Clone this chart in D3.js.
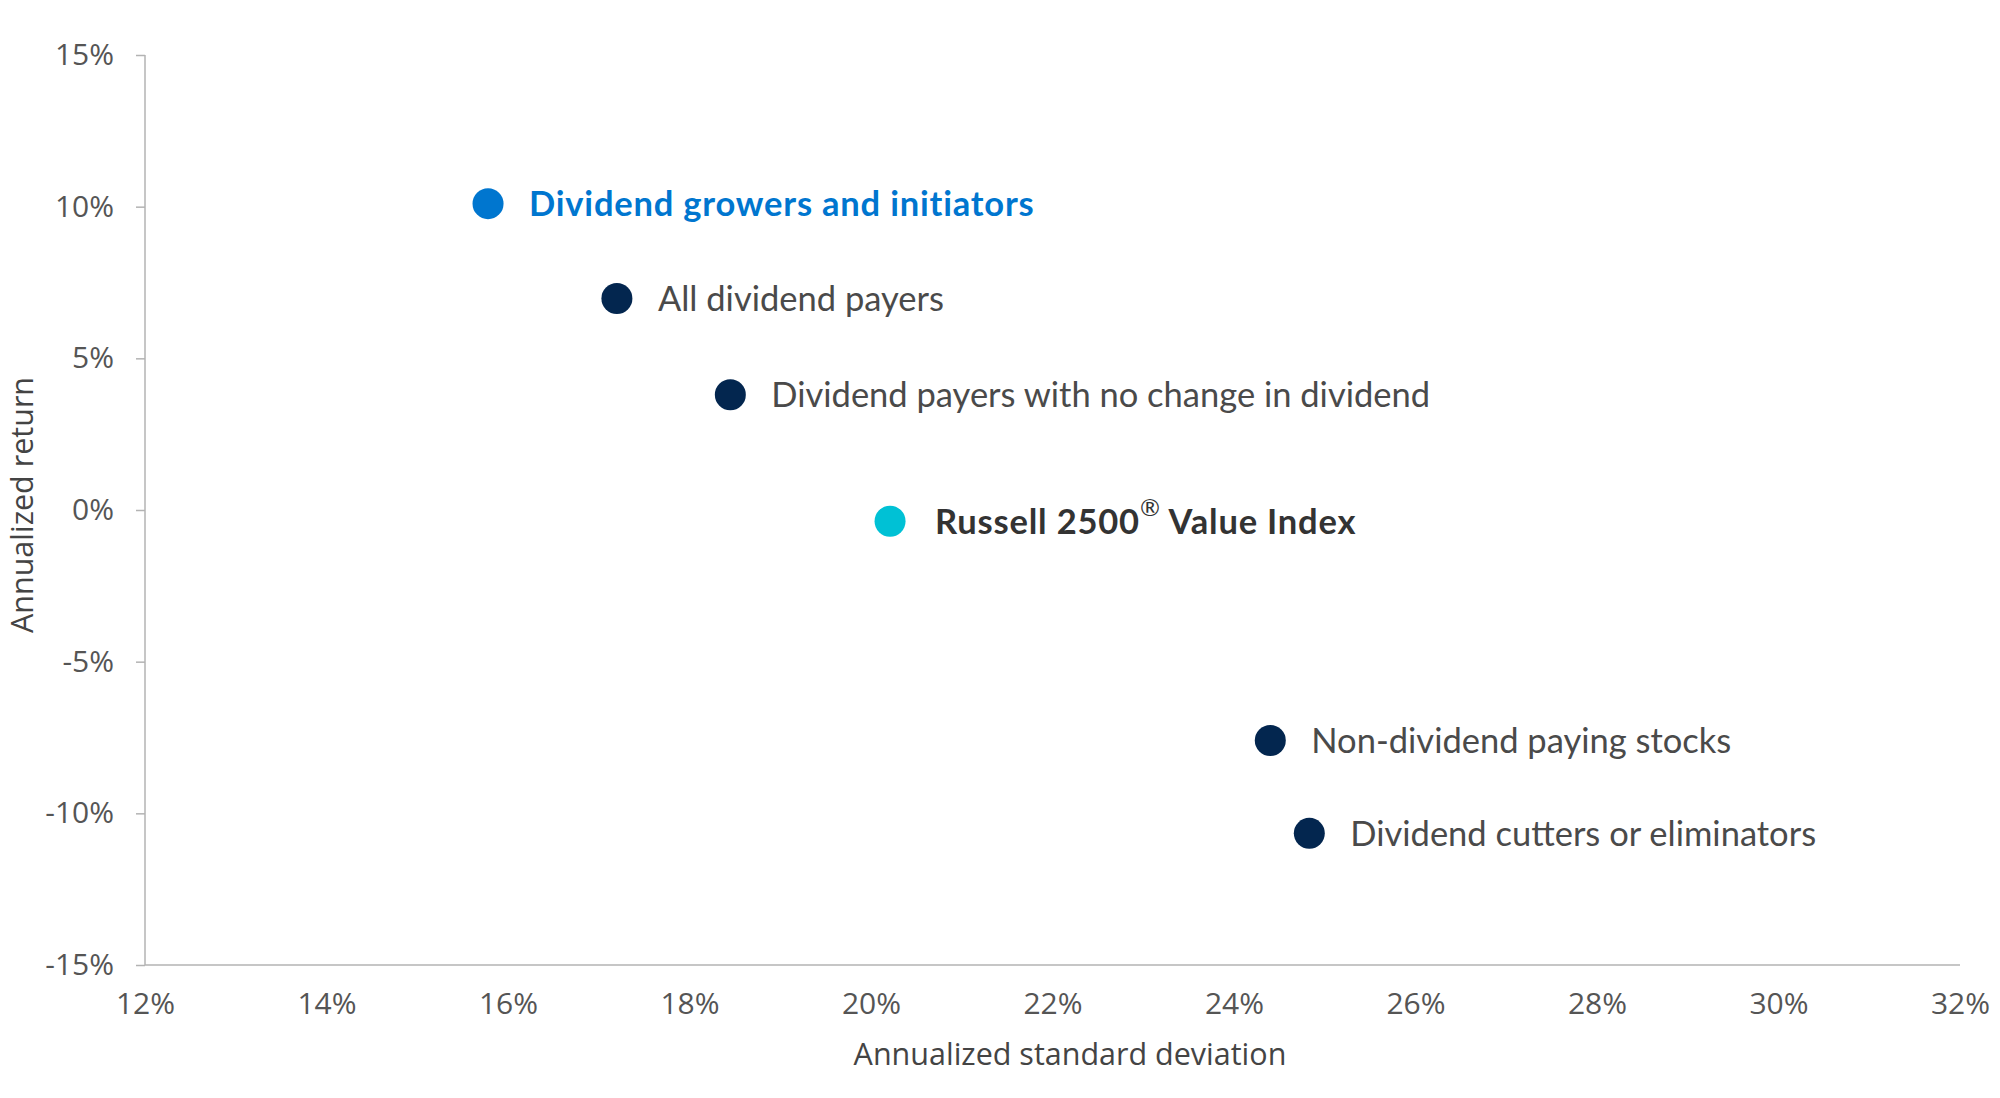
<!doctype html>
<html lang="en">
<head>
<meta charset="utf-8">
<title>Annualized return vs standard deviation</title>
<script src="https://cdn.jsdelivr.net/npm/d3@7"></script>
<style>
  body { margin: 0; background: #fff; }
  .tick text { font-family: "Open Sans", sans-serif; font-size: 30px; fill: #555; }
  .axis-title { font-family: "Open Sans", sans-serif; font-size: 30.5px; fill: #444; }
  .pt-label { font-family: Lato, "Open Sans", sans-serif; font-size: 34.5px; }
</style>
</head>
<body>
<script>
    // data (percent)
    var names = ["Dividend growers and initiators", "All dividend payers",
                 "Dividend payers with no change in dividend", "Russell 2500",
                 "Non-dividend paying stocks", "Dividend cutters or eliminators"];
    var stdDev = [15.78, 17.2, 18.45, 20.21, 24.4, 24.83];
    var annReturn = [10.1, 6.97, 3.8, -0.37, -7.6, -10.66];
    var groups = ["growers", "payers", "payers", "index", "payers", "payers"];

    var xTicks = [12, 14, 16, 18, 20, 22, 24, 26, 28, 30, 32];
    var yTicks = [-15, -10, -5, 0, 5, 10, 15];

    var dotColor = {growers: "#0076cf", payers: "#03264f", index: "#00c1d5"};
    var textColor = {growers: "#0076cf", payers: "#4a4a4a", index: "#333333"};

    var width = 2000, height = 1098;
    var margin = {left: 145, right: 40, top: 55, bottom: 133};

    var svg = d3.select("body").append("svg")
            .attr("width", width).attr("height", height);

    var x = d3.scaleLinear().domain([12, 32]).range([margin.left, width - margin.right]);
    var y = d3.scaleLinear().domain([-15, 15]).range([height - margin.bottom, margin.top]);

    var yAxis = svg.append("g")
        .attr("transform", "translate(" + margin.left + ",0)")
        .call(d3.axisLeft(y).tickValues(yTicks).tickSize(9).tickPadding(22)
              .tickFormat(function(d){ return d + "%"; }));
    yAxis.selectAll("line, path").attr("stroke", "#b3b3b3").attr("stroke-width", 1.5);
    yAxis.select(".domain").attr("d", "M0," + y(15) + "V" + y(-15));

    var xAxis = svg.append("g")
        .attr("transform", "translate(0," + y(-15) + ")")
        .call(d3.axisBottom(x).tickValues(xTicks).tickSize(0).tickPadding(28)
              .tickFormat(function(d){ return d + "%"; }));
    xAxis.selectAll("path").attr("stroke", "#b3b3b3").attr("stroke-width", 1.5);
    xAxis.select(".domain").attr("d", "M" + x(12) + ",0H" + x(32));

    svg.append("text").attr("class", "axis-title")
        .attr("x", 1070).attr("y", 1065)
        .attr("text-anchor", "middle")
        .text("Annualized standard deviation");

    svg.append("text").attr("class", "axis-title")
        .attr("transform", "translate(33," + 505 + ") rotate(-90)")
        .attr("text-anchor", "middle")
        .text("Annualized return");

    var points = names.map(function(n, i){
        return {name: n, sd: stdDev[i], ret: annReturn[i], group: groups[i]};
    });

    svg.append("g").selectAll("circle")
        .data(points)
        .enter().append("circle")
        .attr("cx", function(d){ return x(d.sd); })
        .attr("cy", function(d){ return y(d.ret); })
        .attr("r", 15.5)
        .attr("fill", function(d){ return dotColor[d.group]; });

    var labels = svg.append("g").selectAll("text")
        .data(points)
        .enter().append("text")
        .attr("class", "pt-label")
        .attr("x", function(d){ return x(d.sd) + (d.group == "index" ? 45 : 41); })
        .attr("y", function(d){ return y(d.ret); })
        .attr("dy", "0.36em")
        .attr("fill", function(d){ return textColor[d.group]; })
        .attr("font-weight", function(d){ return d.group == "payers" ? 400 : 700; })
        .attr("font-size", function(d){ return d.group == "payers" ? null : "35px"; })
        .attr("letter-spacing", function(d){ return d.group == "payers" ? null : "0.8px"; });

    labels.each(function(d){
        var t = d3.select(this);
        if (d.group == "index") {
            t.append("tspan").text(d.name);
            t.append("tspan").attr("font-size", "24px").attr("dy", "-0.75em").attr("font-weight", 400).text("®");
            t.append("tspan").attr("dy", "0.52em").text(" Value Index");
        } else {
            t.text(d.name);
        }
    });
</script>
</body>
</html>
